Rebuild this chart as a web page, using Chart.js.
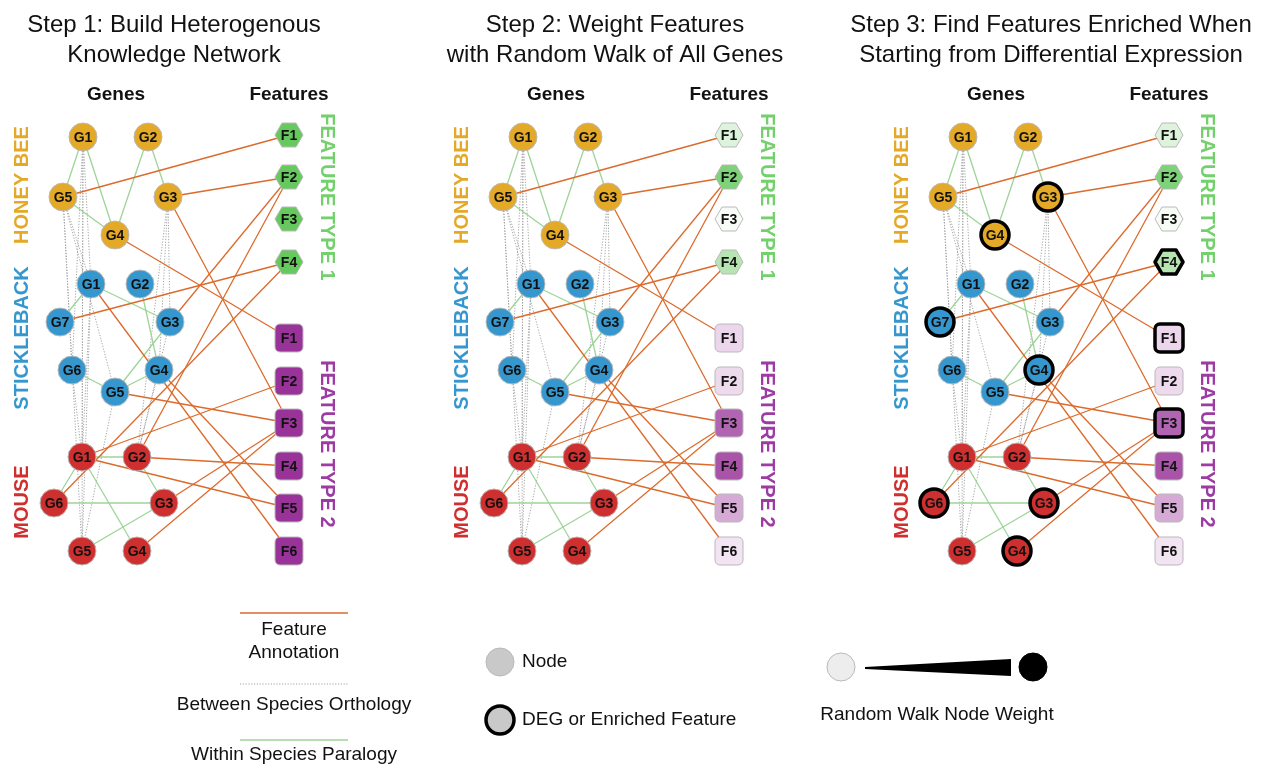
<!DOCTYPE html>
<html>
<head>
<meta charset="utf-8">
<script src="https://cdn.jsdelivr.net/npm/chart.js@4/dist/chart.umd.min.js"></script>
<style>
  html, body { margin: 0; padding: 0; background: #fff; }
  #wrap { width: 1263px; height: 765px; position: relative; }
</style>
</head>
<body>
<div id="wrap"><canvas id="net"></canvas></div>
<script>
// --- Data: genes per species (layout units) ---
const beeGenes = ['G1', 'G2', 'G3', 'G4', 'G5'];
const beeX = [83, 148, 168, 115, 63];
const beeY = [137, 137, 197, 235, 197];

const fishGenes = ['G1', 'G2', 'G3', 'G4', 'G5', 'G6', 'G7'];
const fishX = [91, 140, 170, 159, 115, 72, 60];
const fishY = [284, 284, 322, 370, 392, 370, 322];

const mouseGenes = ['G1', 'G2', 'G3', 'G4', 'G5', 'G6'];
const mouseX = [82, 137, 164, 137, 82, 54];
const mouseY = [457, 457, 503, 551, 551, 503];

// --- Data: features ---
const type1Features = ['F1', 'F2', 'F3', 'F4'];
const type1Y = [135, 177, 219, 262];
const type2Features = ['F1', 'F2', 'F3', 'F4', 'F5', 'F6'];
const type2Y = [338, 381, 423, 466, 508, 551];
const featureX = 289;

// random walk node weight (steps 2 and 3)
const type1Weight = [0.22, 0.84, 0.05, 0.48];
const type2Weight = [0.2, 0.18, 0.76, 0.84, 0.41, 0.13];

// step 3: DEGs and enriched features
const degGenes = ['HB:G3', 'HB:G4', 'SB:G7', 'SB:G4', 'MM:G6', 'MM:G3', 'MM:G4'];
const enrichedFeatures = ['T1:F4', 'T2:F1', 'T2:F3'];

// --- Data: edges ---
const annotationEdges = [
  ['HB:G5', 'T1:F1'], ['HB:G3', 'T1:F2'], ['HB:G3', 'T2:F3'], ['HB:G4', 'T2:F1'],
  ['SB:G7', 'T1:F4'], ['SB:G3', 'T1:F2'], ['SB:G1', 'T2:F6'], ['SB:G4', 'T2:F5'], ['SB:G5', 'T2:F3'],
  ['MM:G1', 'T2:F2'], ['MM:G1', 'T2:F5'], ['MM:G2', 'T2:F4'], ['MM:G2', 'T1:F2'],
  ['MM:G6', 'T1:F4'], ['MM:G3', 'T2:F3'], ['MM:G4', 'T2:F3']
];
const paralogyEdges = [
  ['HB:G1', 'HB:G5'], ['HB:G1', 'HB:G4'], ['HB:G5', 'HB:G4'], ['HB:G2', 'HB:G4'], ['HB:G2', 'HB:G3'],
  ['SB:G1', 'SB:G7'], ['SB:G1', 'SB:G3'], ['SB:G2', 'SB:G4'], ['SB:G3', 'SB:G5'], ['SB:G6', 'SB:G5'], ['SB:G5', 'SB:G4'],
  ['MM:G1', 'MM:G2'], ['MM:G1', 'MM:G6'], ['MM:G1', 'MM:G4'], ['MM:G2', 'MM:G3'], ['MM:G6', 'MM:G3'], ['MM:G5', 'MM:G3']
];
const orthologyEdges = [
  ['HB:G1', 'SB:G1'], ['HB:G1', 'SB:G6'], ['HB:G1', 'MM:G1'], ['HB:G1', 'MM:G5'],
  ['HB:G5', 'SB:G1'], ['HB:G5', 'SB:G6'], ['HB:G5', 'SB:G5'], ['HB:G5', 'MM:G5'],
  ['HB:G3', 'SB:G3'], ['HB:G3', 'SB:G4'], ['HB:G3', 'MM:G2'],
  ['SB:G1', 'MM:G1'], ['SB:G1', 'MM:G5'], ['SB:G6', 'MM:G1'], ['SB:G5', 'MM:G5'],
  ['SB:G4', 'MM:G2'], ['SB:G3', 'MM:G2']
];

const titles = [
  ['Step 1: Build Heterogenous', 'Knowledge Network'],
  ['Step 2: Weight Features', 'with Random Walk of All Genes'],
  ['Step 3: Find Features Enriched When', 'Starting from Differential Expression']
];

// --- Styles ---
const panelShift = [0, 440, 880];
const beeColor = '#e4a927';
const fishColor = '#3597cd';
const mouseColor = '#cf2f2f';
const type1Color = '#66c95e';
const type2Color = '#993399';
const orange = '#dc6a2c';
const green = '#9dd497';
const grey = '#a2a2a2';
const FONT = '"Liberation Sans", Arial, Helvetica, sans-serif';

const species = {
  HB: { names: beeGenes, xs: beeX, ys: beeY, color: beeColor },
  SB: { names: fishGenes, xs: fishX, ys: fishY, color: fishColor },
  MM: { names: mouseGenes, xs: mouseX, ys: mouseY, color: mouseColor }
};

function nodePos(id) {
  const [grp, name] = id.split(':');
  if (grp === 'T1') return { x: featureX, y: type1Y[type1Features.indexOf(name)] };
  if (grp === 'T2') return { x: featureX, y: type2Y[type2Features.indexOf(name)] };
  const sp = species[grp];
  const i = sp.names.indexOf(name);
  return { x: sp.xs[i], y: sp.ys[i] };
}

function tint(hex, w) {
  const c = [1, 3, 5].map(i => parseInt(hex.substr(i, 2), 16));
  const m = c.map(v => Math.round(255 - (255 - v) * w));
  return `rgb(${m[0]},${m[1]},${m[2]})`;
}

// --- Shape canvases for feature nodes ---
const shapeCache = {};
function shapeCanvas(kind, fill, stroke, lw) {
  const key = [kind, fill, stroke, lw].join('|');
  if (shapeCache[key]) return shapeCache[key];
  const cv = document.createElement('canvas');
  cv.width = 38; cv.height = 38;
  const c = cv.getContext('2d');
  const cx = 19, cy = 19;
  c.beginPath();
  if (kind === 'hex') {
    const rx = 14, ry = 12;
    c.moveTo(cx - rx, cy);
    c.lineTo(cx - rx / 2, cy - ry);
    c.lineTo(cx + rx / 2, cy - ry);
    c.lineTo(cx + rx, cy);
    c.lineTo(cx + rx / 2, cy + ry);
    c.lineTo(cx - rx / 2, cy + ry);
    c.closePath();
  } else {
    const h = 14, r = 5;
    c.moveTo(cx - h + r, cy - h);
    c.arcTo(cx + h, cy - h, cx + h, cy + h, r);
    c.arcTo(cx + h, cy + h, cx - h, cy + h, r);
    c.arcTo(cx - h, cy + h, cx - h, cy - h, r);
    c.arcTo(cx - h, cy - h, cx + h, cy - h, r);
    c.closePath();
  }
  c.fillStyle = fill;
  c.fill();
  c.lineWidth = lw;
  c.strokeStyle = stroke;
  c.lineJoin = 'round';
  c.stroke();
  shapeCache[key] = cv;
  return cv;
}

// --- Datasets ---
const datasets = [];

function edgeSet(p, list, color, width, dash, order) {
  list.forEach(([a, b]) => {
    const pa = nodePos(a), pb = nodePos(b);
    datasets.push({
      data: [{ x: pa.x + panelShift[p], y: pa.y }, { x: pb.x + panelShift[p], y: pb.y }],
      showLine: true,
      borderColor: color,
      borderWidth: width,
      borderDash: dash,
      pointRadius: 0,
      pointHitRadius: 0,
      order
    });
  });
}

function geneSet(p, key) {
  const sp = species[key];
  const deg = sp.names.map(n => p === 2 && degGenes.includes(key + ':' + n));
  datasets.push({
    data: sp.names.map((n, i) => ({ x: sp.xs[i] + panelShift[p], y: sp.ys[i] })),
    nodeText: sp.names,
    pointStyle: 'circle',
    pointRadius: 14,
    pointBackgroundColor: sp.color,
    pointBorderColor: deg.map(d => d ? '#000' : '#b9b9b9'),
    pointBorderWidth: deg.map(d => d ? 3.5 : 1),
    order: 0
  });
}

function featureSet(p, grp, names, ys, weights, color, kind) {
  const styles = names.map((n, i) => {
    const w = p === 0 ? 1 : weights[i];
    const hit = p === 2 && enrichedFeatures.includes(grp + ':' + n);
    return shapeCanvas(kind, tint(color, w), hit ? '#000' : '#b9b9b9', hit ? 3.5 : 1);
  });
  datasets.push({
    data: names.map((n, i) => ({ x: featureX + panelShift[p], y: ys[i] })),
    nodeText: names,
    pointStyle: styles,
    pointRadius: 14,
    order: 0
  });
}

for (let p = 0; p < 3; p++) {
  geneSet(p, 'HB');
  geneSet(p, 'SB');
  geneSet(p, 'MM');
  featureSet(p, 'T1', type1Features, type1Y, type1Weight, type1Color, 'hex');
  featureSet(p, 'T2', type2Features, type2Y, type2Weight, type2Color, 'square');
  edgeSet(p, annotationEdges, orange, 1.3, [], 1);
  edgeSet(p, paralogyEdges, green, 1.3, [], 2);
  edgeSet(p, orthologyEdges, grey, 1, [1.2, 1.6], 3);
}

// --- Legend marks ---
const legendLine = (y, color, width, dash) => datasets.push({
  data: [{ x: 240, y }, { x: 348, y }],
  showLine: true, borderColor: color, borderWidth: width, borderDash: dash,
  pointRadius: 0, pointHitRadius: 0, order: 1
});
legendLine(613, orange, 1.3, []);
legendLine(684, grey, 1, [1.2, 1.6]);
legendLine(740, green, 1.6, []);

datasets.push({
  data: [{ x: 500, y: 662 }, { x: 500, y: 720 }, { x: 841, y: 667 }, { x: 1033, y: 667 }],
  pointStyle: 'circle',
  pointRadius: 14,
  pointBackgroundColor: ['#c9c9c9', '#c9c9c9', '#ededed', '#000'],
  pointBorderColor: ['#b9b9b9', '#000', '#b9b9b9', '#000'],
  pointBorderWidth: [1, 3.5, 1, 1],
  order: 0
});

// --- Text plugin ---
const textPlugin = {
  id: 'texts',
  afterDatasetsDraw(chart) {
    const { ctx } = chart;
    const sx = v => chart.scales.x.getPixelForValue(v);
    const sy = v => chart.scales.y.getPixelForValue(v);

    // node labels
    ctx.save();
    ctx.font = 'bold 14px ' + FONT;
    ctx.fillStyle = '#111';
    ctx.textAlign = 'center';
    ctx.textBaseline = 'middle';
    chart.data.datasets.forEach((ds, di) => {
      if (!ds.nodeText) return;
      chart.getDatasetMeta(di).data.forEach((pt, i) => ctx.fillText(ds.nodeText[i], pt.x, pt.y + 1));
    });
    ctx.restore();

    const text = (str, x, y, font, color, align, rot) => {
      ctx.save();
      ctx.translate(sx(x), sy(y));
      if (rot) ctx.rotate(rot);
      ctx.font = font;
      ctx.fillStyle = color;
      ctx.textAlign = align || 'center';
      ctx.textBaseline = 'middle';
      ctx.fillText(str, 0, 0);
      ctx.restore();
    };

    const titleX = [174, 615, 1051];
    for (let p = 0; p < 3; p++) {
      const o = panelShift[p];
      text(titles[p][0], titleX[p], 25, '24px ' + FONT, '#111');
      text(titles[p][1], titleX[p], 55, '24px ' + FONT, '#111');
      text('Genes', o + 116, 95, 'bold 19px ' + FONT, '#111');
      text('Features', o + 289, 95, 'bold 19px ' + FONT, '#111');
      text('HONEY BEE', o + 22, 185, 'bold 20px ' + FONT, beeColor, 'center', -Math.PI / 2);
      text('STICKLEBACK', o + 22, 338, 'bold 20px ' + FONT, fishColor, 'center', -Math.PI / 2);
      text('MOUSE', o + 22, 502, 'bold 20px ' + FONT, mouseColor, 'center', -Math.PI / 2);
      text('FEATURE TYPE 1', o + 327, 197, 'bold 20px ' + FONT, '#74d06c', 'center', Math.PI / 2);
      text('FEATURE TYPE 2', o + 327, 444, 'bold 20px ' + FONT, '#9d3aa3', 'center', Math.PI / 2);
    }

    // legend text
    const lf = '19px ' + FONT;
    text('Feature', 294, 630, lf, '#111');
    text('Annotation', 294, 653, lf, '#111');
    text('Between Species Orthology', 294, 705, lf, '#111');
    text('Within Species Paralogy', 294, 755, lf, '#111');
    text('Node', 522, 662, lf, '#111', 'left');
    text('DEG or Enriched Feature', 522, 720, lf, '#111', 'left');
    text('Random Walk Node Weight', 937, 715, lf, '#111');

    // weight wedge
    ctx.save();
    ctx.beginPath();
    ctx.moveTo(sx(865), sy(667));
    ctx.lineTo(sx(1011), sy(659));
    ctx.lineTo(sx(1011), sy(676));
    ctx.lineTo(sx(865), sy(669));
    ctx.closePath();
    ctx.fillStyle = '#000';
    ctx.fill();
    ctx.restore();
  }
};

new Chart(document.getElementById('net'), {
  type: 'scatter',
  data: { datasets },
  options: {
    responsive: true,
    maintainAspectRatio: false,
    animation: false,
    events: [],
    layout: { padding: 0, autoPadding: false },
    scales: {
      x: { type: 'linear', min: 0, max: 1263, display: false },
      y: { type: 'linear', min: 0, max: 765, reverse: true, display: false }
    },
    plugins: { legend: { display: false }, tooltip: { enabled: false } }
  },
  plugins: [textPlugin]
});
</script>
</body>
</html>
